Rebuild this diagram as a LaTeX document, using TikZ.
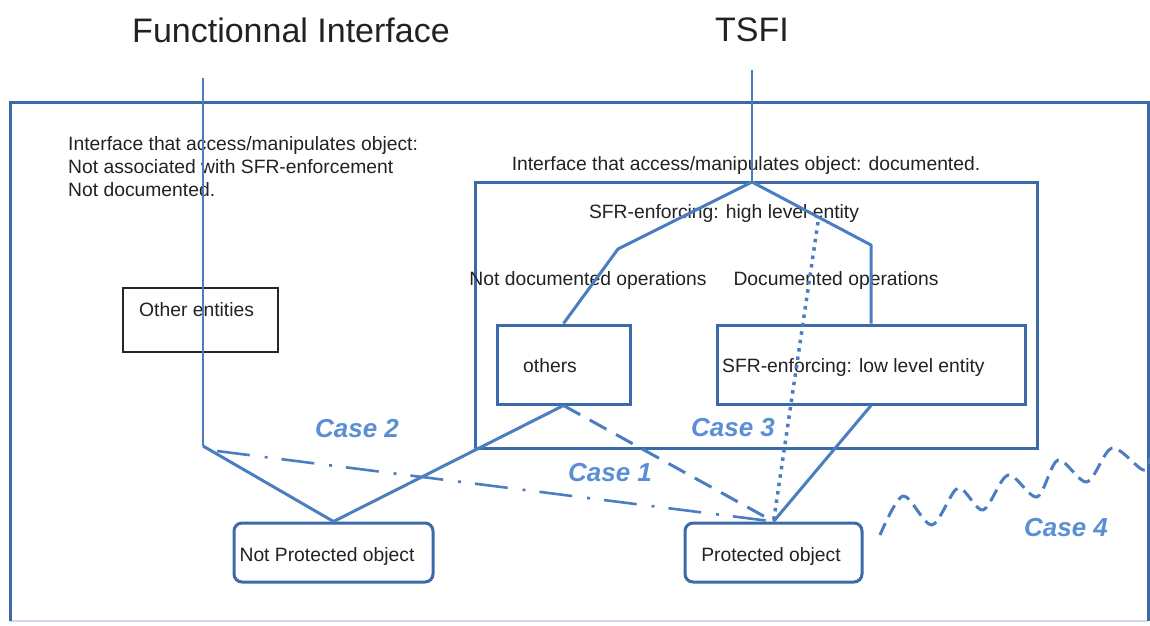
\documentclass[tikz,border=0pt]{standalone}
\usepackage{fontspec}
\setmainfont{Liberation Sans}
\definecolor{frameblue}{HTML}{3C6AA8}
\definecolor{lineblue}{HTML}{4A7EC0}
\definecolor{caseblue}{HTML}{5A8FD6}
\definecolor{ink}{HTML}{222222}

\begin{document}
\begin{tikzpicture}[x=1pt,y=-1pt,
  title/.style={font=\fontsize{34}{38}\selectfont, text=ink, inner sep=0pt},
  lbl/.style={font=\fontsize{19.3}{23}\selectfont, text=ink, inner sep=0pt},
  case/.style={font=\fontsize{26}{30}\selectfont\bfseries\itshape, text=caseblue, inner sep=0pt},
  frame/.style={draw=frameblue, line width=3pt, line join=miter},
  framefoot/.style={draw=frameblue!25, line width=1.5pt},
  box/.style={draw=frameblue, line width=3pt, inner sep=0pt},
  blackbox/.style={draw=black!85, line width=2.5pt, inner sep=0pt},
  obj/.style={box, rounded corners=8pt},
  wire/.style={draw=lineblue, line width=3pt, line join=round},
  thinwire/.style={draw=lineblue, line width=2pt},
  case1line/.style={wire, dash pattern=on 19pt off 11pt},
  case2line/.style={draw=lineblue, line width=2.6pt, dash pattern=on 33pt off 15pt on 3pt off 14pt},
  case3line/.style={draw=lineblue, line width=3.5pt, dash pattern=on 3.5pt off 5pt},
  case4line/.style={wire, dash pattern=on 13pt off 7pt}
]
\useasboundingbox (0,0) rectangle (1150,625);
\fill[white] (0,0) rectangle (1150,625);

% headings
\node[title] (fi) at (291,30) {Functionnal Interface};
\node[title] (ts) at (752,30) {TSFI};

% outer frame (its foot is only faintly drawn)
\draw[framefoot] (10,621) -- (1148,621);
\draw[frame] (10,621) -- (10,102) -- (1148,102) -- (1148,621);

% entity boxes
\node[blackbox, minimum width=155pt, minimum height=64pt] (oe) at (200.5,320) {};
\node[box, minimum width=562pt, minimum height=266pt] (tsbox) at (756,315) {};
\node[box, minimum width=133pt, minimum height=79pt] (oth) at (563.5,364.5) {};
\node[box, minimum width=308pt, minimum height=79pt] (low) at (871,364.5) {};
\node[obj, minimum width=199pt, minimum height=59pt] (np) at (333.5,552.5) {};
\node[obj, minimum width=177pt, minimum height=59pt] (pr) at (773.5,552.5) {};

% texts
\node[lbl, anchor=north west, align=left] (note) at (68,136)
  {Interface that access/manipulates object:\\Not associated with SFR-enforcement\\Not documented.};
\node[lbl, anchor=base] (doc) at (746,170) {Interface that access/manipulates object: documented.};
\node[lbl, anchor=base] (high) at (724,218) {SFR-enforcing: high level entity};
\node[lbl, anchor=base] (ndop) at (588,285) {Not documented operations};
\node[lbl, anchor=base] (dop) at (836,285) {Documented operations};
\node[lbl, anchor=base west] (othtxt) at (523,372) {others};
\node[lbl, anchor=base west] (lowtxt) at (722,372) {SFR-enforcing: low level entity};
\node[lbl, anchor=base west] (oetxt) at (139,316) {Other entities};
\node[lbl, anchor=base] (nptxt) at (327,561) {Not Protected object};
\node[lbl, anchor=base] (prtxt) at (771,561) {Protected object};

% case labels
\node[case] (c1) at (610,473) {Case 1};
\node[case] (c2) at (357,429) {Case 2};
\node[case] (c3) at (733,428) {Case 3};
\node[case] (c4) at (1066,528) {Case 4};

% interface lines
\coordinate (fiTop) at (203,78);
\coordinate (fiBot) at (203,446);
\coordinate (tsTop) at (752,70);
\coordinate (apex) at (752,182);
\coordinate (kl) at (618,249);
\coordinate (kr) at (871,245);
\coordinate (c2start) at (217,451);
\coordinate (c3start) at (818,222);

\draw[thinwire] (fiTop) -- (fiBot);
\draw[wire] (fiBot) -- (np.north);
\draw[thinwire] (tsTop) -- (apex);
\draw[wire] (oth.north) -- (kl) -- (apex) -- (kr) -- (low.north);

% accesses to the objects
\draw[wire] (oth.south) -- (np.north);
\draw[wire] (low.south) -- (pr.north);
\draw[case1line] (oth.south) -- (pr.north);
\draw[case2line] (c2start) -- (pr.north);
\draw[case3line] (c3start) -- (pr.north);

% case 4: wavy path
\draw[case4line] plot[smooth, tension=0.5] coordinates
  {(880,535) (903,496) (932,525) (958,488) (983,510) (1008,475) (1037,497)
   (1058,460) (1087,482) (1112,448) (1143,470) (1150,458)};
\end{tikzpicture}
\end{document}
